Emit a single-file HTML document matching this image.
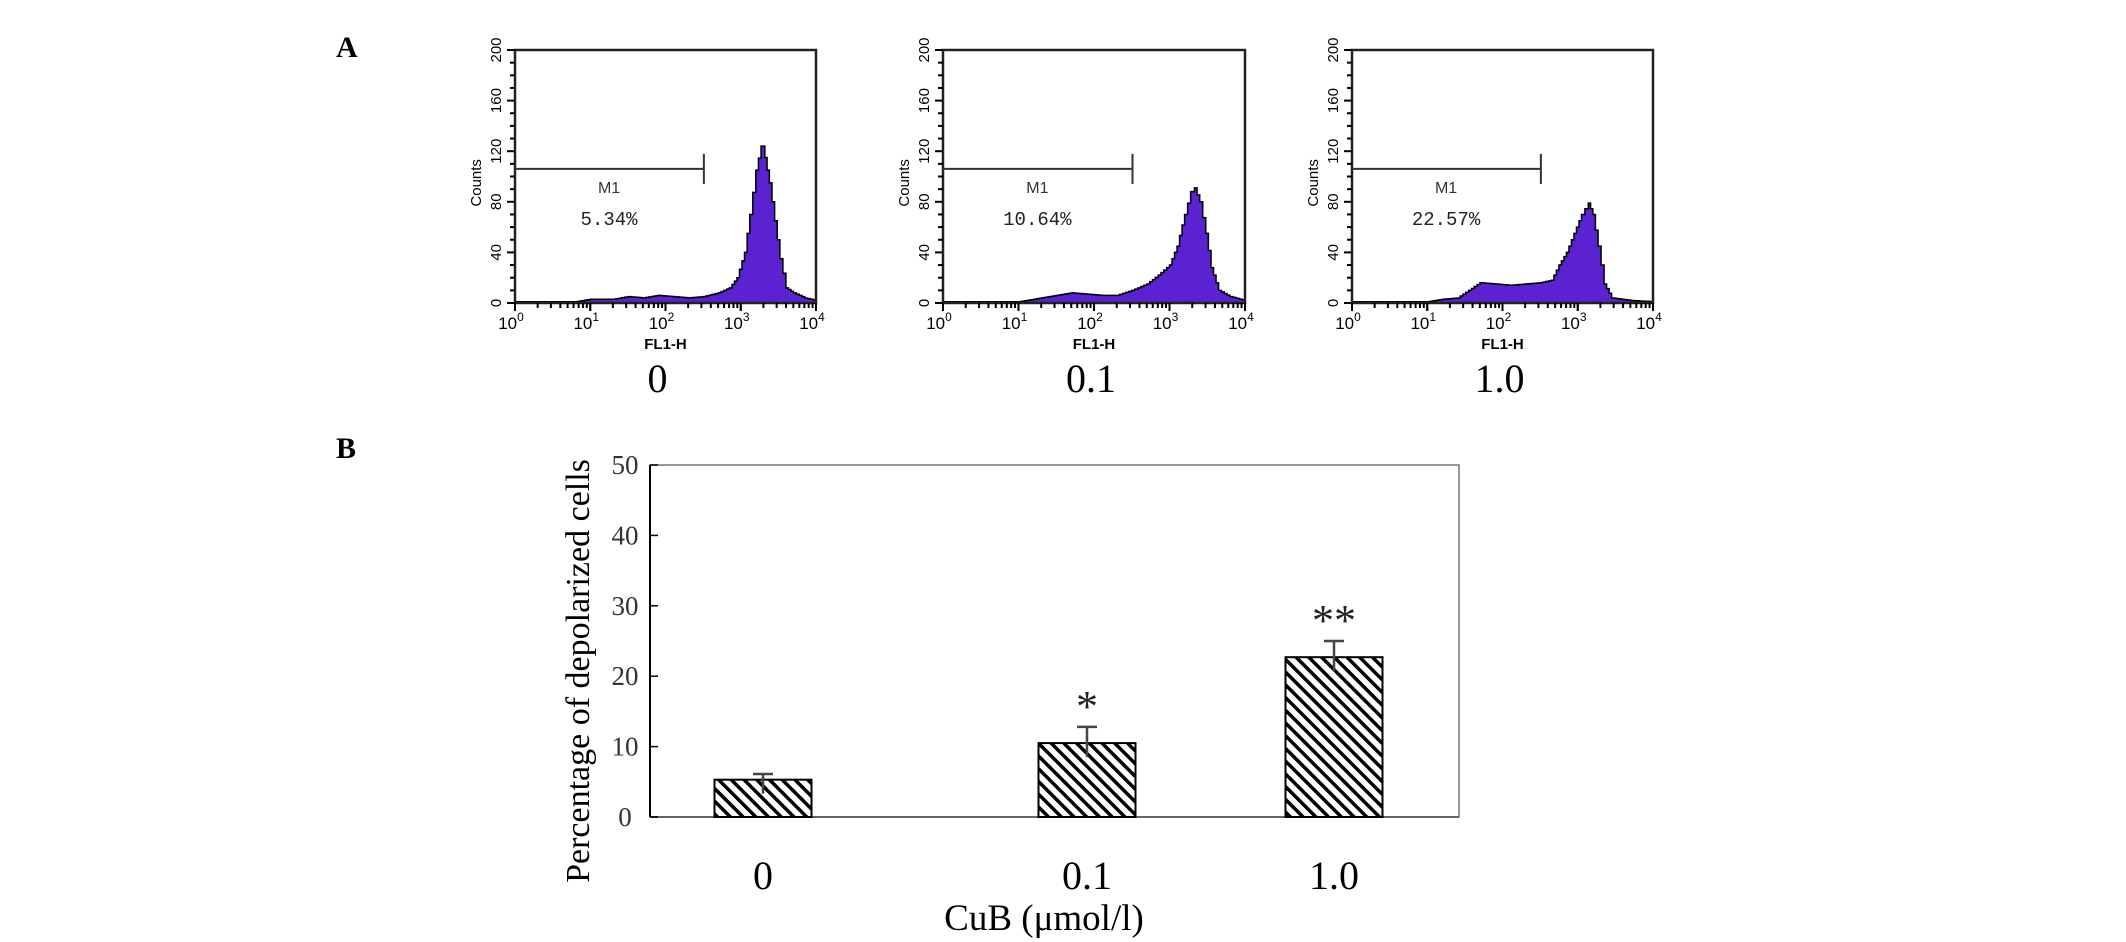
<!DOCTYPE html>
<html><head><meta charset="utf-8"><style>
html,body{margin:0;padding:0;background:#fff;}
svg{display:block;}
</style></head><body>
<svg id="fig" width="2126" height="942" viewBox="0 0 2126 942" xmlns="http://www.w3.org/2000/svg">
<text x="336" y="57" font-family="Liberation Serif, serif" font-weight="bold" font-size="30">A</text>
<text x="336" y="458" font-family="Liberation Serif, serif" font-weight="bold" font-size="30">B</text>
<g id="hists"></g>
<g id="bars"></g>
<defs>
<pattern id="hatch" patternUnits="userSpaceOnUse" width="9" height="9" patternTransform="rotate(-45)">
<rect width="9" height="9" fill="#fff"/><rect x="0" y="0" width="3.5" height="9" fill="#000"/>
</pattern>
</defs>
</svg>
<script>
// ---- Histogram data (log10 FL1-H, counts) ----
const h0Logs = [0,0.8,1.0,1.3,1.5,1.7,1.9,2.1,2.3,2.5,2.7,2.85,2.95,3.05,3.12,3.2,3.27,3.32,3.38,3.45,3.52,3.6,3.7,3.85,4.0];
const h0Counts=[1,1,3,3,5,4,6,5,4,5,8,12,20,40,70,105,124,115,95,65,35,12,8,4,2];
const h1Logs = [0,1.0,1.2,1.5,1.7,1.9,2.1,2.3,2.5,2.7,2.85,3.0,3.1,3.2,3.28,3.33,3.4,3.48,3.55,3.65,3.8,4.0];
const h1Counts=[1,1,3,6,8,7,6,6,10,15,22,30,45,70,88,91,80,55,28,10,5,2];
const h2Logs = [0,1.0,1.2,1.4,1.55,1.7,1.9,2.1,2.3,2.5,2.65,2.75,2.85,2.95,3.05,3.14,3.2,3.27,3.35,3.45,3.7,4.0];
const h2Counts=[1,1,3,4,10,16,15,14,15,16,18,30,40,55,70,79,70,45,15,4,2,1];
const histPercents = ["5.34%","10.64%","22.57%"];
const histConds = ["0","0.1","1.0"];
const countTicks = [0,40,80,120,160,200];
const m1End = 2.51, m1Count = 106;
// ---- Bar data ----
const barCats = ["0","0.1","1.0"];
const barValues = [5.3,10.5,22.7];
const barErrors = [0.8,2.3,2.3];
const barStars = ["","*","**"];
const barTicks = [0,10,20,30,40,50];

const NS="http://www.w3.org/2000/svg";
function el(tag,attrs,parent,text){const e=document.createElementNS(NS,tag);for(const k in attrs)e.setAttribute(k,attrs[k]);if(text!==undefined)e.textContent=text;parent.appendChild(e);return e;}

const hg=document.getElementById('hists');
const boxes=[[515,816],[943,1245],[1352,1653]];
const top0=50, base=303;
const hLogs=[h0Logs,h1Logs,h2Logs], hCounts=[h0Counts,h1Counts,h2Counts];
boxes.forEach((b,i)=>{
  const L=b[0],R=b[1];
  const xs=v=>L+(R-L)*v/4;
  const ys=c=>base-(base-top0)*c/200;
  const g=el('g',{},hg);
  
  
  let d='M'+xs(0)+','+base;
  const lg=hLogs[i],ct=hCounts[i];
  for(let k=0;k<lg.length;k++){
    const x0=xs(lg[k]), x1=xs(k+1<lg.length?lg[k+1]:4);
    const n=Math.max(1,Math.round((x1-x0)/3));
    for(let s=0;s<n;s++){
      const t=s/n;
      const c=ct[k]+(k+1<ct.length?(ct[k+1]-ct[k])*t:0);
      d+=' L'+(x0+(x1-x0)*t)+','+ys(c)+' L'+(x0+(x1-x0)*(s+1)/n)+','+ys(c);
    }
  }
  d+=' L'+xs(4)+','+base+' Z';
  const p=el('path',{d:d,fill:'#5a22d0',stroke:'#000','stroke-width':1.5},g);
  
  
  const box=el('rect',{x:L,y:top0,width:R-L,height:base-top0,fill:'none',stroke:'#222','stroke-width':2.5},g);
  
  
  for(let c=0;c<=200;c+=10){
    const maj=c%40===0;
    el('line',{x1:L-(maj?8:5),x2:L,y1:ys(c),y2:ys(c),stroke:'#000','stroke-width':2},g);
  }
  countTicks.forEach(c=>{
    const t=el('text',{x:0,y:0,transform:`translate(${L-14},${ys(c)}) rotate(-90)`,'text-anchor':'middle','font-family':'Liberation Sans, sans-serif','font-size':15,fill:'#000'},g,String(c));
    
    
  });
  const ct2=el('text',{x:0,y:0,transform:`translate(${L-34},${ys(95)}) rotate(-90)`,'text-anchor':'middle','font-family':'Liberation Sans, sans-serif','font-size':15},g,'Counts');
  
  
  for(let dd=0;dd<4;dd++){for(let m=1;m<=10;m++){const v=dd+Math.log10(m);el('line',{x1:xs(v),x2:xs(v),y1:base,y2:base+(m===1||m===10?8:5),stroke:'#000','stroke-width':2},g);}}
  for(let dd=0;dd<=4;dd++){
    const t=el('text',{x:xs(dd)-4,y:base+26,'text-anchor':'middle','font-family':'Liberation Sans, sans-serif','font-size':17},g);
    
    
    t.textContent='10';
    el('tspan',{dy:-8,'font-size':12},t,String(dd));
  }
  const xt=el('text',{x:xs(2),y:base+46,'text-anchor':'middle','font-family':'Liberation Sans, sans-serif','font-weight':'bold','font-size':15},g,'FL1-H');
  
  
  el('line',{x1:L,x2:xs(m1End),y1:ys(m1Count),y2:ys(m1Count),stroke:'#333','stroke-width':2},g);
  el('line',{x1:xs(m1End),x2:xs(m1End),y1:ys(m1Count)-15,y2:ys(m1Count)+15,stroke:'#333','stroke-width':2},g);
  const m1=el('text',{x:xs(1.25),y:ys(m1Count)+24,'text-anchor':'middle','font-family':'Liberation Sans, sans-serif','font-size':16,fill:'#333'},g,'M1');
  
  
  const pc=el('text',{x:xs(1.25),y:ys(m1Count)+56,'text-anchor':'middle','font-family':'Liberation Mono, monospace','font-size':19,fill:'#222'},g,histPercents[i]);
  
  
  const cl=el('text',{x:(L+R)/2-3+(i===0?-5:0),y:392,'text-anchor':'middle','font-family':'Liberation Serif, serif','font-size':40},g,histConds[i]);
  
  
});

// ---- Bar chart ----
const bg=document.getElementById('bars');
const PL=650,PR=1459,PT=465,PB=817;
const yb=v=>PB-(PB-PT)*v/50;
const centers=[763,1087,1334], bw=97;
const frame=el('rect',{x:PL,y:PT,width:PR-PL,height:PB-PT,fill:'none',stroke:'#777','stroke-width':1.5},bg);


el('line',{x1:PL,x2:PL,y1:PT,y2:PB,stroke:'#000','stroke-width':2},bg);
el('line',{x1:PL,x2:PR,y1:PB,y2:PB,stroke:'#666','stroke-width':2},bg);
barTicks.forEach(v=>{
  el('line',{x1:PL,x2:PL+8,y1:yb(v),y2:yb(v),stroke:'#000','stroke-width':1.5},bg);
  const t=el('text',{x:625,y:yb(v)+9,'text-anchor':'middle','font-family':'Liberation Serif, serif','font-size':27,fill:'#333'},bg,String(v));
  
  
});
const yt=el('text',{x:0,y:0,transform:`translate(589,${yb(25)+30}) rotate(-90)`,'text-anchor':'middle','font-family':'Liberation Serif, serif','font-size':34},bg,'Percentage of depolarized cells');


barCats.forEach((c,i)=>{
  const x=centers[i]-bw/2;
  const r=el('rect',{x:x,y:yb(barValues[i]),width:bw,height:PB-yb(barValues[i]),fill:'url(#hatch)',stroke:'#000','stroke-width':2},bg);
  
  
  const e=el('path',{d:`M${centers[i]},${yb(barValues[i])+14} V${yb(barValues[i]+barErrors[i])} M${centers[i]-10},${yb(barValues[i]+barErrors[i])} H${centers[i]+10}`,stroke:'#444','stroke-width':2.5,fill:'none'},bg);
  
  
  if(barStars[i]){
    const s=el('text',{x:centers[i],y:yb(barValues[i]+barErrors[i])-6,'text-anchor':'middle','font-family':'Liberation Serif, serif','font-size':44,fill:'#222'},bg,barStars[i]);
    
    
  }
  const l=el('text',{x:centers[i],y:889,'text-anchor':'middle','font-family':'Liberation Serif, serif','font-size':40},bg,c);
  
  
});
const xt=el('text',{x:1044,y:930,'text-anchor':'middle','font-family':'Liberation Serif, serif','font-size':37},bg,'CuB (μmol/l)');


</script>
</body></html>
